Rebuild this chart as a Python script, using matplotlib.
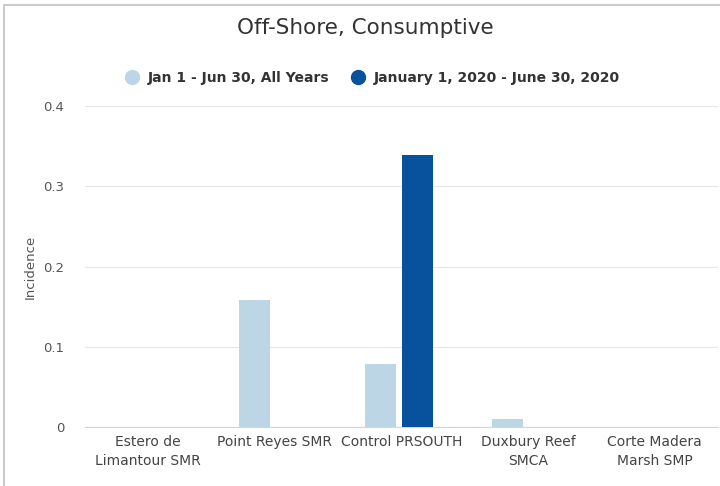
import matplotlib.pyplot as plt
import matplotlib.patches as mpatches
import numpy as np

categories = ['Estero de\nLimantour SMR', 'Point Reyes SMR', 'Control PRSOUTH',
              'Duxbury Reef\nSMCA', 'Corte Madera\nMarsh SMP']
all_years = [0, 0.158, 0.078, 0.01, 0]
year_2020 = [0, 0, 0.339, 0, 0]
series_names = ['Jan 1 - Jun 30, All Years', 'January 1, 2020 - June 30, 2020']
light = '#bcd6e6'
dark = '#08519c'

fig = plt.figure(figsize=(7.2, 4.86), dpi=100)
ax = fig.add_axes([85/720, 1 - 427/486, 633/720, 321/486])

x = np.arange(len(categories))
w = 0.245
ax.bar(x - w/2 - 0.04, all_years, w, color=light, label=series_names[0], zorder=3)
ax.bar(x + w/2, year_2020, w, color=dark, label=series_names[1], zorder=3)

ax.set_xlim(-0.5, 4.5)
ax.set_ylim(0, 0.4)
ax.set_yticks([0, 0.1, 0.2, 0.3, 0.4])
ax.set_yticklabels(['0', '0.1', '0.2', '0.3', '0.4'])
ax.set_xticks(x)
ax.set_xticklabels(categories, fontsize=10, color='#444444', linespacing=1.45)
ax.tick_params(axis='y', length=0, pad=15, labelsize=9.5, labelcolor='#555555')
ax.tick_params(axis='x', length=0, pad=6)
ax.grid(axis='y', color='#e6e6e6', linewidth=0.8, zorder=0)
for s in ['top', 'right', 'left']:
    ax.spines[s].set_visible(False)
ax.spines['bottom'].set_color('#ccd6eb')
ax.set_ylabel('Incidence', fontsize=9.5, color='#555555')
ax.yaxis.set_label_coords(-48/633, 0.5)

fig.text(365/720, 1 - 28/486, 'Off-Shore, Consumptive', ha='center', va='center',
         fontsize=15.5, color='#333333')

h1 = plt.Line2D([], [], marker='o', linestyle='', markersize=10, color=light)
h2 = plt.Line2D([], [], marker='o', linestyle='', markersize=10, color=dark)
fig.legend([h1, h2], series_names, loc='center', bbox_to_anchor=(369/720, 1 - 78/486),
           ncol=2, frameon=False, handletextpad=0.2, columnspacing=1.0,
           prop={'weight': 'bold', 'size': 10}, labelcolor='#333333')

border = mpatches.Rectangle((4/720, -0.1), 1.2, 1 - 5/486 + 0.1, transform=fig.transFigure,
                            fill=False, edgecolor='#cccccc', linewidth=1.5)
fig.patches.append(border)

fig.savefig('out.png', dpi=100)
